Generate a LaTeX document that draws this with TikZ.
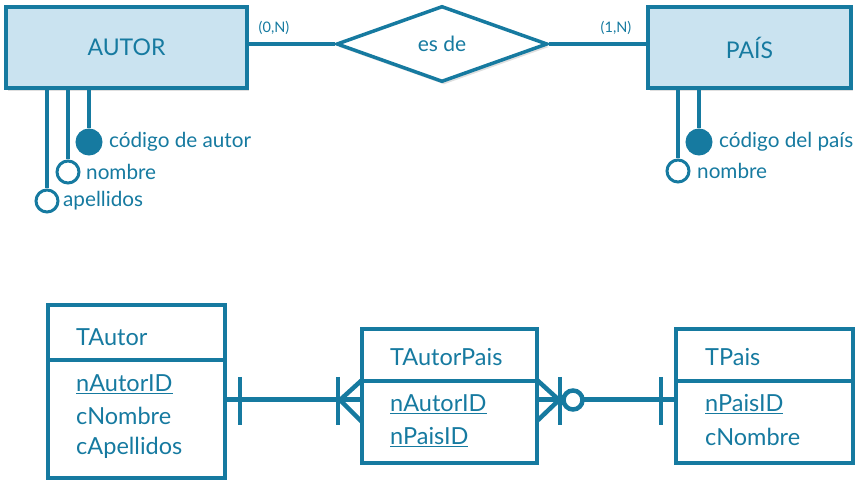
\documentclass[tikz,border=0pt]{standalone}
\usepackage{fontspec}
\setmainfont{Lato}
\usetikzlibrary{shapes.geometric,shadows,calc}
\definecolor{erblue}{RGB}{22,122,160}
\definecolor{erfill}{RGB}{202,227,240}
\begin{document}
\begin{tikzpicture}[x=1pt,y=-1pt,
  every node/.style={text=erblue},
  entity/.style={draw=erblue,line width=4pt,fill=erfill,minimum width=#1,minimum height=81pt,inner sep=0pt,
     font=\fontsize{23}{26}\selectfont,
     drop shadow={shadow xshift=2pt,shadow yshift=-3pt,opacity=0.25,fill=gray}},
  relship/.style={draw=erblue,line width=3.5pt,fill=white,diamond,aspect=2.78,minimum width=211pt,minimum height=76pt,inner sep=0pt,
     font=\fontsize{21}{24}\selectfont,
     drop shadow={shadow xshift=2pt,shadow yshift=-3pt,opacity=0.25,fill=gray}},
  conn/.style={draw=erblue,line width=3.5pt},
  keyattr/.style={circle,draw=erblue,fill=erblue,line width=2pt,minimum size=25pt,inner sep=0pt},
  plainattr/.style={circle,draw=erblue,fill=white,line width=3pt,minimum size=22pt,inner sep=0pt},
  attrlabel/.style={anchor=west,inner sep=0pt,font=\fontsize{20.7}{24}\selectfont},
  card/.style={inner sep=0pt,font=\fontsize{14.5}{16}\selectfont},
  table/.style={draw=erblue,line width=4.5pt,minimum width=#1,inner sep=0pt},
  field/.style={anchor=west,inner sep=0pt,font=\fontsize{23.5}{26}\selectfont},
  rel/.style={draw=erblue,line width=5pt},
  crow/.style={draw=erblue,line width=4.5pt},
]
\useasboundingbox (0,0) rectangle (863,486);

% ---------- ER diagram ----------
\node[entity=241pt] (autor) at (126.5,47.5) {AUTOR};
\node[relship] (esde) at (442,44) {es de};
\node[entity=203pt] (pais) at (749.5,47.5) {PAÍS};
\draw[conn] (esde.west -| autor.east) -- (esde.west);
\draw[conn] (esde.east) -- (esde.east -| pais.west);
\node[card] (c0N) at (274,28) {(0,N)};
\node[card] (c1N) at (616,28) {(1,N)};

% AUTOR attributes
\node[keyattr] (acod) at (89,142) {};
\node[plainattr] (anom) at (68,172) {};
\node[plainattr] (aape) at (47,201) {};
\draw[conn,line width=4pt] (acod) -- (acod |- autor.south);
\draw[conn,line width=4pt] (anom) -- (anom |- autor.south);
\draw[conn,line width=4pt] (aape) -- (aape |- autor.south);
\node[attrlabel] (lacod) at (109,142) {código de autor};
\node[attrlabel] (lanom) at (86,172) {nombre};
\node[attrlabel] (laape) at (63,201) {apellidos};

% PAIS attributes
\node[keyattr] (pcod) at (699,142) {};
\node[plainattr] (pnom) at (678,171) {};
\draw[conn,line width=4pt] (pcod) -- (pcod |- pais.south);
\draw[conn,line width=4pt] (pnom) -- (pnom |- pais.south);
\node[attrlabel] (lpcod) at (719,142) {código del país};
\node[attrlabel] (lpnom) at (697,171) {nombre};

% ---------- Relational tables ----------
\node[table=177pt,minimum height=173pt] (tautor) at (136.5,391.5) {};
\draw[draw=erblue,line width=4.5pt] (48,360) -- (225,360);
\node[field] (tautorh) at (76,337) {TAutor};
\node[field] (ta1) at (76,384) {\underline{nAutorID}};
\node[field] (ta2) at (76,416) {cNombre};
\node[field] (ta3) at (76,448) {cApellidos};

\node[table=175pt,minimum height=134pt] (tap) at (449.5,396) {};
\draw[draw=erblue,line width=4.5pt] (362,381) -- (537,381);
\node[field] (taph) at (390,357) {TAutorPais};
\node[field] (tap1) at (390,404) {\underline{nAutorID}};
\node[field] (tap2) at (390,437) {\underline{nPaisID}};

\node[table=177pt,minimum height=134pt] (tpais) at (764.5,396) {};
\draw[draw=erblue,line width=4.5pt] (676,381) -- (853,381);
\node[field] (tph) at (705,357) {TPais};
\node[field] (tp1) at (705,404) {\underline{nPaisID}};
\node[field] (tp2) at (705,437) {cNombre};

\coordinate (ry) at (0,400);
% TAutor -- TAutorPais
\draw[rel] (tautor.east |- ry) -- (tap.west |- ry);
\draw[crow] (240,377) -- (240,425);
\draw[crow] (338,377) -- (338,425);
\draw[crow] (362,380) -- (340,400) -- (362,422);
% TAutorPais -- TPais
\draw[rel] (tap.east |- ry) -- (tpais.west |- ry);
\draw[crow] (537,380) -- (559,400) -- (537,421);
\draw[crow] (560,377) -- (560,425);
\draw[crow,fill=white] (573,400) circle (9.5pt);
\draw[crow] (661,377) -- (661,425);
\end{tikzpicture}
\end{document}
